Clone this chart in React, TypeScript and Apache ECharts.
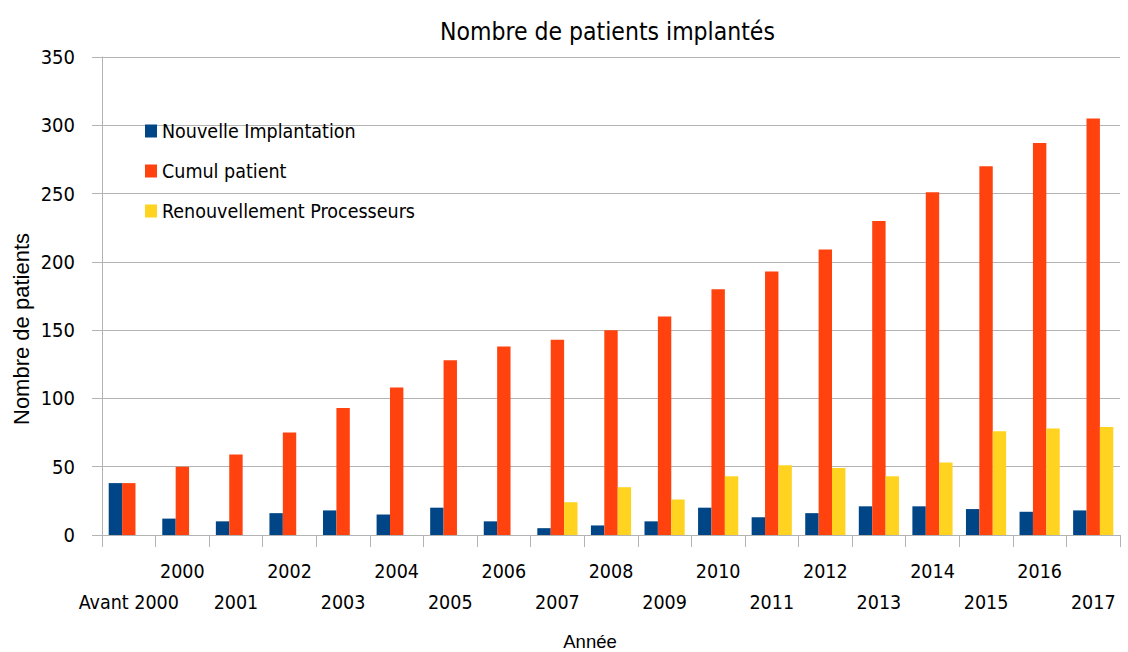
import React, { useEffect, useRef } from "react";
import * as echarts from "echarts";

const categories = ["Avant 2000", "2000", "2001", "2002", "2003", "2004", "2005", "2006", "2007", "2008", "2009", "2010", "2011", "2012", "2013", "2014", "2015", "2016", "2017"];
const nouvelle = [38, 12, 10, 16, 18, 15, 20, 10, 5, 7, 10, 20, 13, 16, 21, 21, 19, 17, 18];
const cumul = [38, 50, 59, 75, 93, 108, 128, 138, 143, 150, 160, 180, 193, 209, 230, 251, 270, 287, 305];
const renouvellement = [0, 0, 0, 0, 0, 0, 0, 0, 24, 35, 26, 43, 51, 49, 43, 53, 76, 78, 79];
const seriesNames = ["Nouvelle Implantation", "Cumul patient", "Renouvellement Processeurs"];

const NARROW = "'Liberation Sans Narrow', 'DejaVu Sans Condensed', sans-serif";
const NORMAL = "'Liberation Sans', Arial, sans-serif";

export default function App() {
  const ref = useRef<HTMLDivElement>(null);
  useEffect(() => {
    const chart = echarts.init(ref.current!, null, { renderer: "svg" });
    chart.setOption({
      animation: false,
      backgroundColor: "#ffffff",
      color: ["#004586", "#ff420e", "#ffd320"],
      title: {
        text: "Nombre de patients implantés",
        left: 435,
        top: 14,
        textStyle: { fontFamily: NARROW, fontSize: 24.5, fontWeight: "normal", color: "#000" },
      },
      legend: {
        orient: "vertical",
        left: 140,
        top: 115,
        itemWidth: 12,
        itemHeight: 13,
        itemGap: 18,
        icon: "rect",
        data: seriesNames,
        textStyle: { fontFamily: NARROW, fontSize: 19.5, color: "#000", lineHeight: 22 },
      },
      grid: { left: 102, right: 8, top: 57, bottom: 117, containLabel: false },
      xAxis: {
        type: "category",
        data: categories,
        axisLine: { lineStyle: { color: "#b3b3b3", width: 1 } },
        axisTick: { show: true, length: 12, lineStyle: { color: "#b3b3b3" } },
        axisLabel: {
          interval: 0,
          fontFamily: NARROW,
          fontSize: 19.5,
          color: "#000",
          lineHeight: 31,
          margin: 21,
          formatter: (v: string, i: number) => (i % 2 === 1 ? v : "\n" + v),
        },
      },
      yAxis: {
        type: "value",
        min: 0,
        max: 350,
        interval: 50,
        axisLine: { show: true, lineStyle: { color: "#b3b3b3" } },
        axisTick: { show: true, length: 10, lineStyle: { color: "#b3b3b3" } },
        splitLine: { lineStyle: { color: "#b3b3b3" } },
        axisLabel: { fontFamily: NARROW, fontSize: 20, color: "#000", margin: 27 },
      },
      graphic: [
        {
          type: "text",
          x: 21,
          y: 329,
          rotation: Math.PI / 2,
          style: { text: "Nombre de patients", fontFamily: NORMAL, fontSize: 22, fill: "#000", align: "center", verticalAlign: "middle" },
        },
        {
          type: "text",
          x: 590,
          y: 641,
          style: { text: "Année", fontFamily: NORMAL, fontSize: 18.5, fill: "#000", align: "center", verticalAlign: "middle" },
        },
      ],
      series: [
        { name: seriesNames[0], type: "bar", data: nouvelle, barGap: "0%", barCategoryGap: "25%" },
        { name: seriesNames[1], type: "bar", data: cumul, barGap: "0%", barCategoryGap: "25%" },
        { name: seriesNames[2], type: "bar", data: renouvellement, barGap: "0%", barCategoryGap: "25%" },
      ],
    });
    return () => chart.dispose();
  }, []);
  return <div ref={ref} style={{ position: "fixed", left: 0, top: 0, width: 1128, height: 652 }} />;
}
